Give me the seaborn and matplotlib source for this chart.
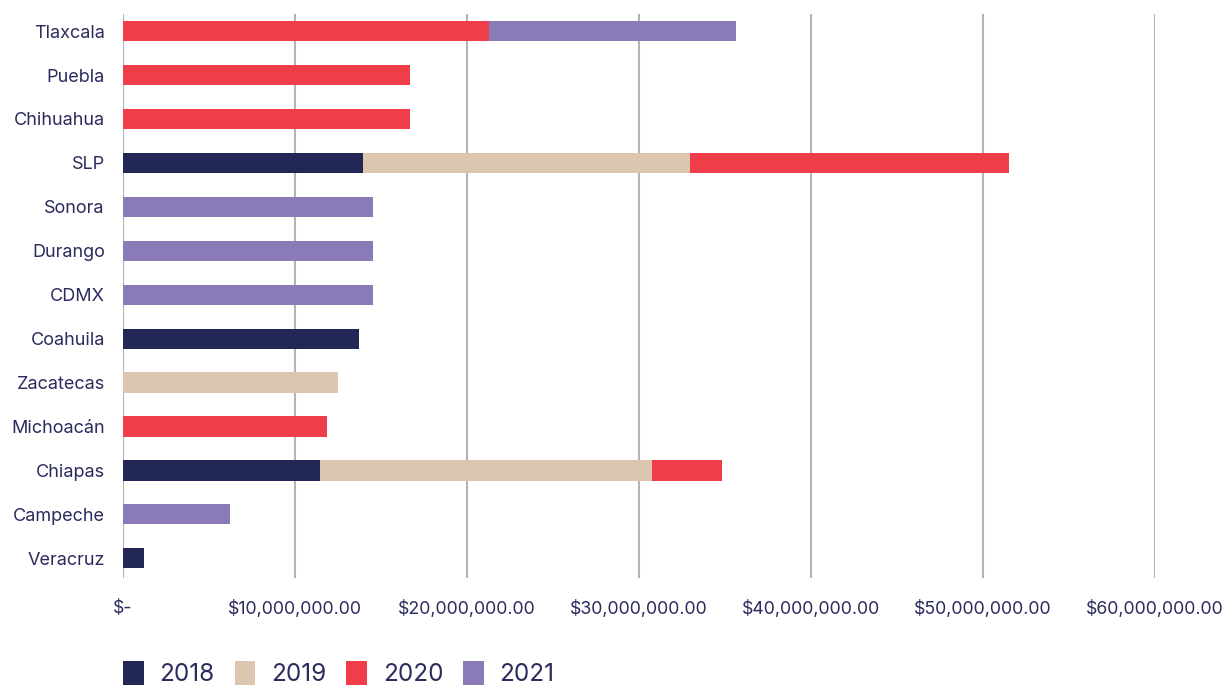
import matplotlib
matplotlib.use("Agg")
import matplotlib.pyplot as plt
import seaborn as sns
import pandas as pd
import numpy as np
from matplotlib.patches import Patch

states = ["Tlaxcala", "Puebla", "Chihuahua", "SLP", "Sonora", "Durango", "CDMX",
          "Coahuila", "Zacatecas", "Michoacán", "Chiapas", "Campeche", "Veracruz"]
v2018 = [0, 0, 0, 13.95e6, 0, 0, 0, 13.7e6, 0, 0, 11.45e6, 0, 1.2e6]
v2019 = [0, 0, 0, 19.0e6, 0, 0, 0, 0, 12.5e6, 0, 19.3e6, 0, 0]
v2020 = [21.3e6, 16.7e6, 16.7e6, 18.55e6, 0, 0, 0, 0, 0, 11.85e6, 4.1e6, 0, 0]
v2021 = [14.35e6, 0, 0, 0, 14.55e6, 14.55e6, 14.55e6, 0, 0, 0, 0, 6.25e6, 0]
years = ["2018", "2019", "2020", "2021"]
colors = ["#222755", "#dcc6b0", "#ef3e4a", "#8a7bb8"]
xticks = [0, 10e6, 20e6, 30e6, 40e6, 50e6, 60e6]
xticklabels = ["$-", "$10,000,000.00", "$20,000,000.00", "$30,000,000.00",
               "$40,000,000.00", "$50,000,000.00", "$60,000,000.00"]

sns.set_theme(style="white")
plt.rcParams["font.family"] = ["Inter", "DejaVu Sans"]

df = pd.DataFrame({"state": states, "2018": v2018, "2019": v2019,
                   "2020": v2020, "2021": v2021})
cum = df[years].cumsum(axis=1)

fig = plt.figure(figsize=(12.27, 6.86), dpi=100)
ax = fig.add_axes([0.1002, 0.1574, 0.8411, 0.8222])
ax.set_axisbelow(True)
for i in range(3, -1, -1):
    y = years[i]
    d = pd.DataFrame({"state": states, "val": cum[y]})
    sns.barplot(data=d, x="val", y="state", order=states, orient="h",
                color=colors[i], width=0.46, saturation=1, linewidth=0,
                ax=ax, zorder=3)

ax.set_xlim(0, 60e6)
ax.set_ylim(12.45, -0.39)
ax.set_xticks(xticks)
ax.set_xticklabels(xticklabels)
ax.grid(axis="x", color="#b3b3b3", linewidth=1.5, zorder=0)
ax.grid(axis="y", visible=False)
for s in ax.spines.values():
    s.set_visible(False)
ax.set_xlabel("")
ax.set_ylabel("")
ax.tick_params(axis="x", length=5, width=1.5, color="#b3b3b3", pad=11,
               labelsize=12.8, labelcolor="#2b2b5e")
ax.tick_params(axis="y", length=0, pad=13, labelsize=13, labelcolor="#2b2b5e")

handles = [Patch(facecolor=c, edgecolor="none") for c in colors]
fig.legend(handles, years, loc="upper left", bbox_to_anchor=(123 / 1227, 1 - 661 / 686),
           ncol=4, frameon=False, fontsize=17.5, labelcolor="#2b2b5e",
           borderpad=0, borderaxespad=0,
           handlelength=0.85, handleheight=1.15, handletextpad=0.65,
           columnspacing=0.82)

fig.savefig("out.png", dpi=100)
